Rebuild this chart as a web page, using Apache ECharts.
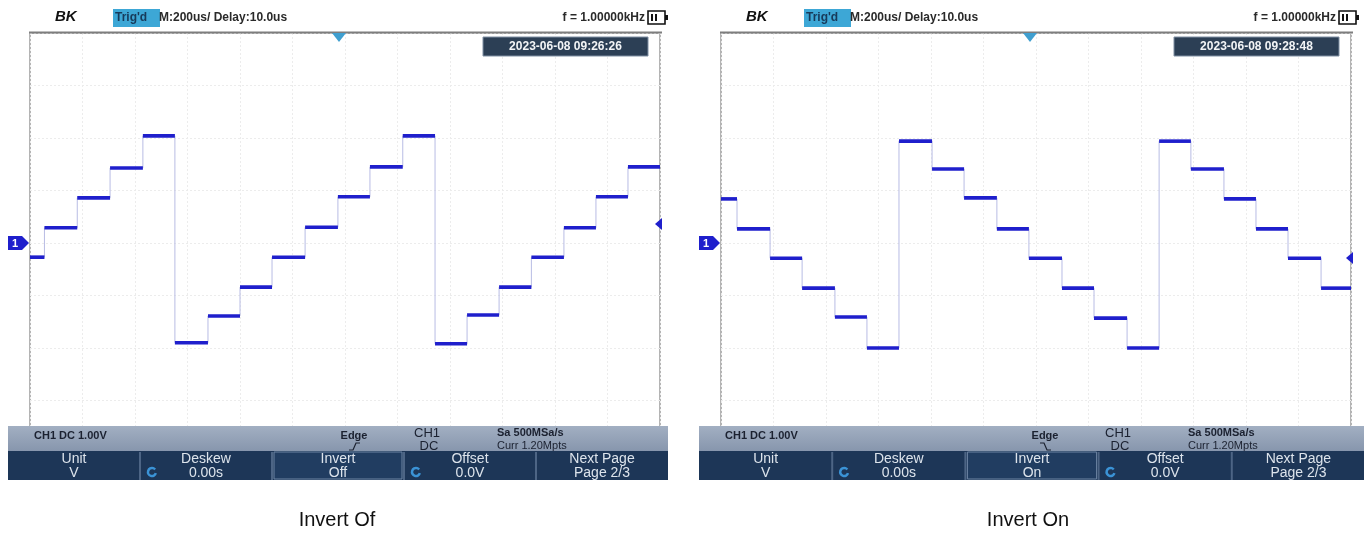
<!DOCTYPE html>
<html><head><meta charset="utf-8">
<script src="https://cdn.jsdelivr.net/npm/echarts@6/dist/echarts.min.js"></script>
<style>html,body{margin:0;padding:0;background:#fff}#c{width:1364px;height:554px}</style>
</head><body><div id="c"></div>
<script>
// ---- data (time in microseconds, voltage in volts, 200 us/div, 1 V/div) ----
const offTimes = [-1200, -1145, -1020, -895, -770, -648, -522, -400, -278, -152, -27, 95, 220, 343, 465, 587, 710, 834, 956, 1078, 1200];
const offVolts = [-0.27, 0.29, 0.86, 1.43, 2.04, -1.90, -1.39, -0.84, -0.27, 0.30, 0.88, 1.45, 2.04, -1.92, -1.37, -0.84, -0.27, 0.29, 0.88, 1.45];
const onTimes  = [-1200, -1139, -1013, -891, -766, -644, -522, -396, -274, -149, -27, 99, 221, 347, 469, 590, 716, 838, 960, 1086, 1200];
const onVolts  = [0.84, 0.27, -0.29, -0.86, -1.41, -2.00, 1.94, 1.41, 0.86, 0.27, -0.29, -0.86, -1.43, -2.00, 1.94, 1.41, 0.84, 0.27, -0.29, -0.86];
const xRange = [-1200, 1200];
const yRange = [-4, 4];
const captions = ['Invert Of', 'Invert On'];
const timestamps = ['2023-06-08 09:26:26', '2023-06-08 09:28:48'];
const buttonTop = ['Unit', 'Deskew', 'Invert', 'Offset', 'Next Page'];
const buttonBottomOff = ['V', '0.00s', 'Off', '0.0V', 'Page 2/3'];
const buttonBottomOn  = ['V', '0.00s', 'On', '0.0V', 'Page 2/3'];

const TRACE = '#1f1fcc';
const FONT = "'Liberation Sans', Arial, sans-serif";

function stepData(times, volts) {
  const d = volts.map((v, i) => [times[i], v]);
  d.push([times[times.length - 1], volts[volts.length - 1]]);
  return d;
}
function plateauData(times, volts) {
  return volts.map((v, i) => [times[i], times[i + 1], v]);
}

function axisPair(idx) {
  return {
    x: {
      type: 'value', gridIndex: idx, min: xRange[0], max: xRange[1], interval: 200,
      axisLine: {show: false}, axisTick: {show: false}, axisLabel: {show: false},
      splitLine: {show: true, lineStyle: {color: '#ececec', width: 1, type: [2, 2]}}
    },
    y: {
      type: 'value', gridIndex: idx, min: yRange[0], max: yRange[1], interval: 1,
      axisLine: {show: false}, axisTick: {show: false}, axisLabel: {show: false},
      splitLine: {show: true, lineStyle: {color: '#ececec', width: 1, type: [2, 2]}}
    }
  };
}
const a0 = axisPair(0), a1 = axisPair(1);

function seriesFor(idx, times, volts) {
  return [
    {
      type: 'line', xAxisIndex: idx, yAxisIndex: idx, step: 'end', symbol: 'none', z: 2,
      data: stepData(times, volts), silent: true, animation: false,
      lineStyle: {color: '#b8bce4', width: 1}
    },
    {
      type: 'custom', xAxisIndex: idx, yAxisIndex: idx, animation: false, silent: true, z: 5,
      encode: {x: [0, 1], y: 2},
      data: plateauData(times, volts),
      renderItem: function (params, api) {
        const p0 = api.coord([api.value(0), api.value(2)]);
        const p1 = api.coord([api.value(1), api.value(2)]);
        return {type: 'rect', shape: {x: p0[0], y: p0[1] - 1.8, width: p1[0] - p0[0], height: 3.6},
                style: {fill: TRACE}};
      }
    }
  ];
}

function txt(x, y, text, font, fill, align, z) {
  return {type: 'text', z: z || 120, style: {x: x, y: y, text: text, font: font, fill: fill,
          textAlign: align || 'left', textVerticalAlign: 'middle'}};
}

function panelGraphics(ox, plotL, barW, ts, bottoms, caption, rising, trigY) {
  const g = [];
  const DARK = '#1b2130';
  // header
  g.push(txt(ox + 55, 17, 'BK', "italic bold 15px " + FONT, '#111'));
  g.push({type: 'rect', z: 110, shape: {x: ox + 113, y: 9, width: 47, height: 18}, style: {fill: '#3da7d6'}});
  g.push(txt(ox + 115, 18, "Trig'd", "bold 12px " + FONT, '#173a5a'));
  g.push(txt(ox + 159, 18, 'M:200us/ Delay:10.0us', "bold 12px " + FONT, '#2a2a2a'));
  g.push(txt(ox + 645, 18, 'f = 1.00000kHz', "bold 12px " + FONT, '#2a2a2a', 'right'));
  g.push({type: 'rect', z: 110, shape: {x: ox + 648, y: 11, width: 17, height: 13}, style: {fill: '#fff', stroke: '#111', lineWidth: 1.6}});
  g.push({type: 'rect', z: 111, shape: {x: ox + 651, y: 14, width: 2, height: 7}, style: {fill: '#111'}});
  g.push({type: 'rect', z: 111, shape: {x: ox + 655, y: 14, width: 2, height: 7}, style: {fill: '#111'}});
  g.push({type: 'rect', z: 111, shape: {x: ox + 665, y: 15, width: 3, height: 5}, style: {fill: '#111'}});
  // header separator
  g.push({type: 'line', z: 112, shape: {x1: plotL - 1, y1: 32.5, x2: plotL + 632, y2: 32.5}, style: {stroke: '#7e7e7e', lineWidth: 1.8}});
  // timestamp
  g.push({type: 'rect', z: 110, shape: {x: ox + 483, y: 37, width: 165, height: 19}, style: {fill: '#2c3f55', stroke: '#7e8fa3', lineWidth: 1}});
  g.push(txt(ox + 565.5, 47, ts, "bold 12px " + FONT, '#f2f4f6', 'center'));
  // trigger position marker
  const tx = ox + 339;
  g.push({type: 'polygon', z: 112, shape: {points: [[tx - 7, 33], [tx + 7, 33], [tx, 42]]}, style: {fill: '#3f9fd0'}});
  // channel 1 ground marker
  g.push({type: 'polygon', z: 112, shape: {points: [[ox + 8, 236], [ox + 22, 236], [ox + 29, 243], [ox + 22, 250], [ox + 8, 250]]}, style: {fill: TRACE}});
  g.push(txt(ox + 15, 243.5, '1', "bold 11px " + FONT, '#fff', 'center', 113));
  // trigger level marker
  const mx = plotL + 631;
  g.push({type: 'polygon', z: 112, shape: {points: [[mx - 6, trigY], [mx + 1, trigY - 6], [mx + 1, trigY + 6]]}, style: {fill: TRACE}});
  // status bar
  g.push({type: 'rect', z: 110, shape: {x: ox + 8, y: 426, width: barW, height: 25},
          style: {fill: new echarts.graphic.LinearGradient(0, 0, 0, 1, [{offset: 0, color: '#a2afc2'}, {offset: 1, color: '#8796ad'}])}});
  g.push(txt(ox + 34, 436, 'CH1 DC 1.00V', "bold 11px " + FONT, DARK));
  g.push(txt(ox + 354, 436, 'Edge', "bold 11px " + FONT, DARK, 'center'));
  if (rising) {
    g.push({type: 'polyline', z: 115, shape: {points: [[ox + 349, 450], [ox + 353, 450], [ox + 356, 443], [ox + 360, 443]]}, style: {stroke: DARK, lineWidth: 1.2, fill: null}});
  } else {
    g.push({type: 'polyline', z: 115, shape: {points: [[ox + 349, 443], [ox + 353, 443], [ox + 356, 450], [ox + 360, 450]]}, style: {stroke: DARK, lineWidth: 1.2, fill: null}});
  }
  g.push(txt(ox + 427, 433, 'CH1', "13px " + FONT, DARK, 'center'));
  g.push(txt(ox + 429, 446, 'DC', "13px " + FONT, DARK, 'center'));
  g.push(txt(ox + 497, 433, 'Sa 500MSa/s', "bold 11px " + FONT, DARK));
  g.push(txt(ox + 497, 446, 'Curr 1.20Mpts', "11px " + FONT, DARK));
  // button bar
  g.push({type: 'rect', z: 110, shape: {x: ox + 8, y: 451, width: barW, height: 29}, style: {fill: '#1d3657'}});
  const bw = barW / 5;
  for (let i = 0; i < 5; i++) {
    const bx = ox + 8 + i * bw;
    if (i > 0) {
      g.push({type: 'line', z: 114, shape: {x1: bx, y1: 452, x2: bx, y2: 480}, style: {stroke: '#4d6585', lineWidth: 2}});
    }
    if (i === 2) {
      g.push({type: 'rect', z: 113, shape: {x: bx + 2, y: 452, width: bw - 4, height: 27}, style: {fill: '#213d61', stroke: '#6f86a5', lineWidth: 1}});
    }
    const cx = bx + bw / 2;
    g.push(txt(cx, 459.5, buttonTop[i], "14px " + FONT, '#dde4ec', 'center', 116));
    g.push(txt(cx, 473, bottoms[i], "14px " + FONT, '#dde4ec', 'center', 116));
    if (i === 1 || i === 3) {
      g.push({type: 'arc', z: 116, shape: {cx: bx + 12, cy: 472, r: 4, startAngle: 0.3, endAngle: 5.6}, style: {stroke: '#3b93d6', lineWidth: 2.5, fill: null}});
    }
  }
  // caption
  g.push(txt(ox + 337, 520, caption, "20px " + FONT, '#111', 'center'));
  return g;
}

const option = {
  animation: false,
  backgroundColor: '#ffffff',
  grid: [
    {left: 30, top: 33, width: 630, height: 420, show: true, borderColor: '#9c9c9c', borderWidth: 1.5, backgroundColor: 'transparent'},
    {left: 721, top: 33, width: 630, height: 420, show: true, borderColor: '#9c9c9c', borderWidth: 1.5, backgroundColor: 'transparent'}
  ],
  xAxis: [a0.x, a1.x],
  yAxis: [a0.y, a1.y],
  series: [].concat(seriesFor(0, offTimes, offVolts), seriesFor(1, onTimes, onVolts)),
  graphic: [].concat(
    panelGraphics(0, 30, 660, timestamps[0], buttonBottomOff, captions[0], true, 224),
    panelGraphics(691, 721, 666, timestamps[1], buttonBottomOn, captions[1], false, 258)
  )
};
const chart = echarts.init(document.getElementById('c'));
chart.setOption(option);
</script></body></html>
